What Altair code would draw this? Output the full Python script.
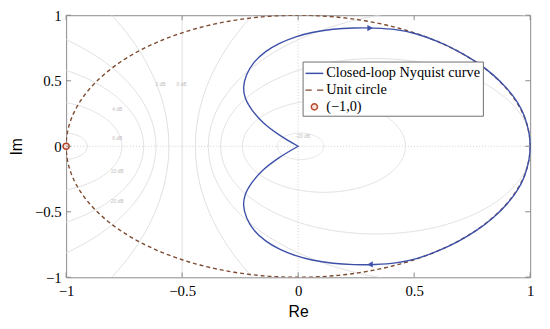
import altair as alt
import numpy as np
import pandas as pd

# ---------------- data ----------------
# closed-loop Nyquist curve, upper branch from (1,0) to the cusp at the origin
upper_re = [1.000, 0.995, 0.975, 0.945, 0.900, 0.840, 0.770, 0.690, 0.600, 0.510,
            0.420, 0.330, 0.240, 0.150, 0.060, -0.010, -0.080, -0.140, -0.190,
            -0.222, -0.235, -0.228, -0.200, -0.150, -0.080, 0.000]
upper_im = [0.000, 0.100, 0.230, 0.335, 0.440, 0.545, 0.640, 0.725, 0.800, 0.857,
            0.890, 0.902, 0.903, 0.893, 0.868, 0.835, 0.785, 0.722, 0.640,
            0.545, 0.450, 0.370, 0.280, 0.180, 0.085, 0.000]
# lower branch from the cusp back to (1,0)
lower_re = [0.000, -0.080, -0.150, -0.200, -0.228, -0.235, -0.222, -0.190, -0.140,
            -0.080, -0.010, 0.060, 0.150, 0.240, 0.330, 0.420, 0.510, 0.600, 0.690,
            0.770, 0.840, 0.900, 0.945, 0.975, 0.995, 1.000]
lower_im = [0.000, -0.085, -0.180, -0.280, -0.370, -0.450, -0.545, -0.640, -0.722,
            -0.785, -0.835, -0.868, -0.893, -0.903, -0.902, -0.890, -0.857, -0.800,
            -0.725, -0.640, -0.545, -0.440, -0.335, -0.230, -0.100, 0.000]

# direction arrows on the curve
arrow_re = [0.31, 0.31]
arrow_im = [0.902, -0.902]
arrow_shape = ["triangle-right", "triangle-left"]

# critical point
crit_re = [-1.0]
crit_im = [0.0]

# M-circle levels of the grid (dB) and their faint labels
m_db = [-20, -10, -6, -4, -2, 2, 4, 6, 10, 20]
m_label_text = ["2 dB", "0 dB", "4 dB", "6 dB", "10 dB", "20 dB", "-20 dB"]
m_label_re = [-0.593, -0.503, -0.78, -0.78, -0.78, -0.78, 0.02]
m_label_im = [0.474, 0.474, 0.286, 0.06, -0.188, -0.42, 0.075]

tick_vals = [-1, -0.5, 0, 0.5, 1]

series = ["Closed-loop Nyquist curve", "Unit circle", "(\u22121,0)"]
series_colors = ["#3d50a8", "#7c4a30", "#b5482c"]
series_fills = ["transparent", "transparent", "#f6e2d8"]

# ---------------- tables ----------------
curve = pd.DataFrame({
    "re": upper_re + lower_re,
    "im": upper_im + lower_im,
})
curve["o"] = range(len(curve))

t = np.linspace(0, 2 * np.pi, 361)
unit = pd.DataFrame({"re": np.cos(t), "im": np.sin(t), "o": range(len(t))})

rows = []
for db in m_db:
    m = 10 ** (db / 20)
    c = -m * m / (m * m - 1)
    r = abs(m / (m * m - 1))
    for i, a in enumerate(np.linspace(0, 2 * np.pi, 721)):
        rows.append({"db": db, "re": c + r * np.cos(a), "im": r * np.sin(a), "o": i})
for i, v in enumerate([-1.0, 1.0]):
    rows.append({"db": 0, "re": -0.5, "im": v, "o": i})
mcirc = pd.DataFrame(rows)
mlabels = pd.DataFrame({"re": m_label_re, "im": m_label_im, "txt": m_label_text})

arrows = pd.DataFrame({"re": arrow_re, "im": arrow_im, "shape": arrow_shape})
crit = pd.DataFrame({"re": crit_re, "im": crit_im, "s": [series[2]]})
xticks = pd.DataFrame({"re": tick_vals})
yticks = pd.DataFrame({"im": tick_vals})

W, H = 471, 266
GRID = "#dedede"
AX = "#8a8a8a"

xs = alt.Scale(domain=[-1, 1], nice=False, zero=False)
ys = alt.Scale(domain=[-1, 1], nice=False, zero=False)

x_axis = alt.Axis(values=tick_vals, format="~g", grid=False, domain=False, ticks=False,
                  labelFont="Liberation Serif", labelFontSize=15, labelColor="black",
                  labelPadding=6, labelFlush=False, title="Re",
                  titleFont="Liberation Sans", titleFontSize=16, titleFontWeight="normal",
                  titleColor="black", titleX=W / 2, titleY=35, titleBaseline="middle")
y_axis = alt.Axis(values=tick_vals, format="~g", grid=False, domain=False, ticks=False,
                  labelFont="Liberation Serif", labelFontSize=15, labelColor="black",
                  labelPadding=5, labelFlush=False, title="Im",
                  titleFont="Liberation Sans", titleFontSize=16, titleFontWeight="normal",
                  titleColor="black", titleX=-50, titleY=H / 2, titleAngle=-90,
                  titleBaseline="middle")

X = alt.X("re:Q", scale=xs, axis=x_axis)
Y = alt.Y("im:Q", scale=ys, axis=y_axis)

grid_circles = alt.Chart(mcirc).mark_line(clip=True, color=GRID, strokeWidth=1).encode(
    x=X, y=Y, detail="db:N", order="o:Q")

grid_text = alt.Chart(mlabels).mark_text(
    font="Liberation Sans", fontSize=5, color="#bdbdbd").encode(x=X, y=Y, text="txt:N")

zero_x = alt.Chart(pd.DataFrame({"re": [0]})).mark_rule(
    color="#cfcfcf", strokeDash=[1, 2], strokeWidth=1).encode(x=X)
zero_y = alt.Chart(pd.DataFrame({"im": [0]})).mark_rule(
    color="#cfcfcf", strokeDash=[1, 2], strokeWidth=1).encode(y=Y)

unit_line = alt.Chart(unit).mark_line(
    clip=True, color=series_colors[1], strokeDash=[4, 3], strokeWidth=1.4).encode(
    x=X, y=Y, order="o:Q")

curve_line = alt.Chart(curve).mark_line(
    color=series_colors[0], strokeWidth=1.4, interpolate="catmull-rom").encode(
    x=X, y=Y, order="o:Q")

arrow_pts = alt.Chart(arrows).mark_point(
    filled=True, color=series_colors[0], size=40, opacity=1).encode(
    x=X, y=Y, shape=alt.Shape("shape:N", scale=None))

shape_paths = ["M-1,0H1", "M-1,0H-0.3M0.3,0H1",
               "M-0.35,0A0.35,0.35,0,1,1,0.35,0A0.35,0.35,0,1,1,-0.35,0Z"]
leg = alt.Legend(title=None, orient="none", legendX=240, legendY=47)
crit_pt = alt.Chart(crit).mark_point(strokeWidth=1.6, size=324, opacity=1).encode(
    x=X, y=Y,
    stroke=alt.Stroke("s:N", scale=alt.Scale(domain=series, range=series_colors), legend=leg),
    fill=alt.Fill("s:N", scale=alt.Scale(domain=series, range=series_fills), legend=leg),
    shape=alt.Shape("s:N", scale=alt.Scale(domain=series, range=shape_paths), legend=leg),
)

tick_b = alt.Chart(xticks).mark_rule(color=AX).encode(
    x=X, y=alt.value(H), y2=alt.value(H - 5))
tick_t = alt.Chart(xticks).mark_rule(color=AX).encode(
    x=X, y=alt.value(0), y2=alt.value(5))
tick_l = alt.Chart(yticks).mark_rule(color=AX).encode(
    y=Y, x=alt.value(0), x2=alt.value(5))
tick_r = alt.Chart(yticks).mark_rule(color=AX).encode(
    y=Y, x=alt.value(W), x2=alt.value(W - 5))

chart = alt.layer(
    grid_circles, grid_text, zero_x, zero_y, unit_line, curve_line, arrow_pts, crit_pt,
    tick_b, tick_t, tick_l, tick_r,
).properties(
    width=W, height=H,
    autosize=alt.AutoSizeParams(type="none"),
    padding={"left": 59, "top": 5, "right": 12, "bottom": 42},
).configure_view(
    stroke=AX, strokeWidth=1,
).configure_legend(
    labelFont="Liberation Serif", labelFontSize=14.5, labelColor="black",
    strokeColor="#6e6e6e", fillColor="white", padding=2, cornerRadius=0,
    symbolSize=324, symbolStrokeWidth=1.5, labelOffset=2, rowPadding=-2,
)

chart.save("out.html", embed_options={"renderer": "svg", "actions": False})
